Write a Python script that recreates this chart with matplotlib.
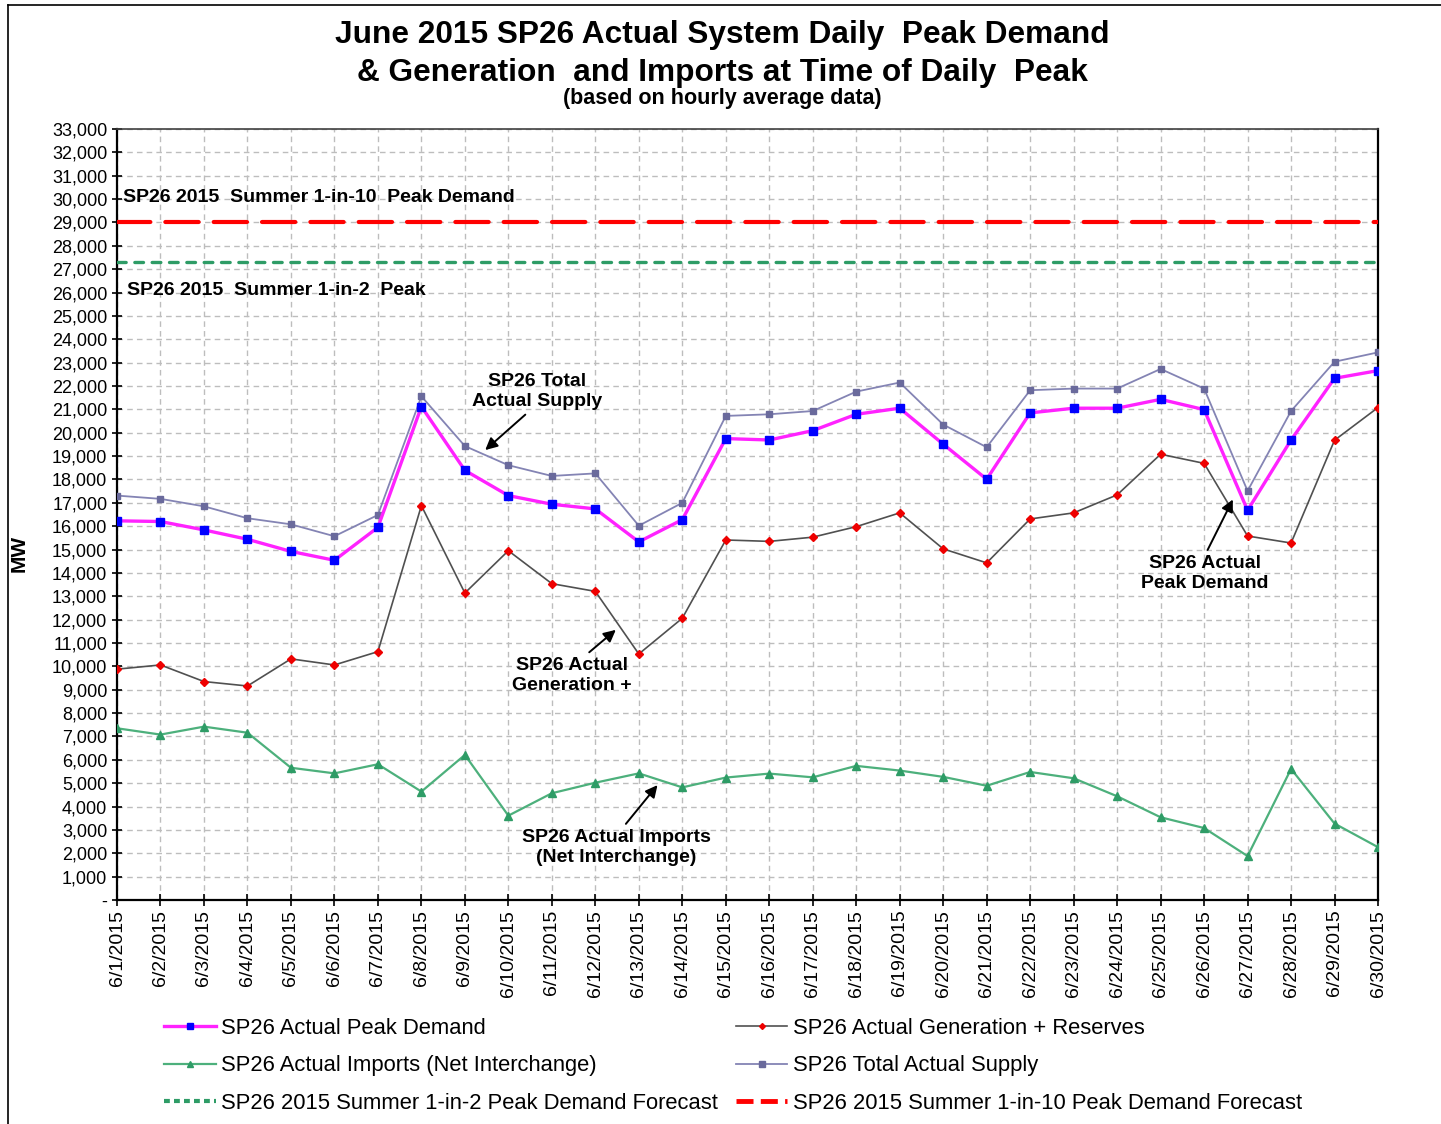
import matplotlib
matplotlib.use("Agg")
import matplotlib.pyplot as plt
from matplotlib.lines import Line2D
from matplotlib.ticker import FixedLocator, FuncFormatter

plt.rcParams["font.family"] = ["Liberation Sans", "DejaVu Sans"]

# ── Data (MW) ────────────────────────────────────────────────────────────────
DATES = [f"6/{d}/2015" for d in range(1, 31)]

PEAK_DEMAND = [16230, 16200, 15840, 15440, 14920, 14540, 15950, 21120, 18390, 17310,
               16940, 16740, 15330, 16280, 19750, 19690, 20090, 20790, 21050, 19510,
               18010, 20850, 21050, 21050, 21430, 20990, 16680, 19690, 22330, 22660]

GENERATION = [9880, 10060, 9350, 9160, 10320, 10060, 10630, 16880, 13140, 14950,
              13540, 13210, 10530, 12060, 15410, 15350, 15530, 15980, 16570, 15030,
              14430, 16310, 16570, 17340, 19080, 18690, 15580, 15280, 19680, 21080]

IMPORTS = [7350, 7080, 7420, 7160, 5660, 5420, 5810, 4640, 6210, 3610,
           4570, 5020, 5420, 4820, 5240, 5410, 5250, 5740, 5540, 5270,
           4890, 5480, 5210, 4440, 3540, 3080, 1880, 5610, 3270, 2260]

TOTAL_SUPPLY = [17310, 17170, 16850, 16340, 16080, 15570, 16480, 21560, 19430, 18610,
                18150, 18260, 16020, 17000, 20720, 20790, 20930, 21760, 22150, 20350,
                19380, 21820, 21890, 21890, 22730, 21890, 17510, 20930, 23040, 23440]

FORECAST_1IN10 = 29000
FORECAST_1IN2 = 27300

Y_TICKS = list(range(0, 33001, 1000))

# ── Figure ───────────────────────────────────────────────────────────────────
fig = plt.figure(figsize=(14.41, 11.24), dpi=100)
ax = fig.add_axes([0.0812, 0.1993, 0.8751, 0.6859])

x = list(range(len(DATES)))

ax.plot(x, [FORECAST_1IN10] * len(x), color="#FF0000", lw=3.0,
        dashes=(8, 3.6), dash_capstyle="round", zorder=3)
ax.plot(x, [FORECAST_1IN2] * len(x), color="#2E9C66", lw=2.4,
        dashes=(2.6, 2.6), dash_capstyle="round", zorder=3)

ax.plot(x, TOTAL_SUPPLY, color="#8484B4", lw=1.3, marker="s", ms=5,
        mfc="#6A6A9C", mec="#6A6A9C", zorder=4)
ax.plot(x, GENERATION, color="#505050", lw=1.2, marker="D", ms=3.6,
        mfc="#EE0000", mec="#EE0000", zorder=4)
ax.plot(x, IMPORTS, color="#4DB07C", lw=1.6, marker="^", ms=5.5,
        mfc="#2E9C66", mec="#2E9C66", zorder=4)
ax.plot(x, PEAK_DEMAND, color="#FF22FF", lw=2.4, marker="s", ms=5.5,
        mfc="#0000FF", mec="#0000FF", zorder=5)

ax.set_xlim(0, len(x) - 1)
ax.set_ylim(0, 33000)
ax.xaxis.set_major_locator(FixedLocator(x))
ax.set_xticklabels(DATES, rotation=90, fontsize=14)
ax.yaxis.set_major_locator(FixedLocator(Y_TICKS))
ax.yaxis.set_major_formatter(FuncFormatter(lambda v, p: "-" if v == 0 else f"{int(v):,}"))
ax.tick_params(axis="y", labelsize=13, direction="inout", length=7, width=1.2)
ax.tick_params(axis="x", direction="inout", length=8, width=1.2, pad=3)
ax.grid(True, color="#BDBDBD", lw=1.0, linestyle=(0, (4, 3)))
ax.set_axisbelow(True)
for side in ["left", "bottom", "right"]:
    ax.spines[side].set_linewidth(1.6)
    ax.spines[side].set_color("black")
ax.spines["top"].set_color("#404040")
ax.spines["top"].set_linewidth(1.2)

ax.set_ylabel("MW", fontsize=15, fontweight="bold")
ax.yaxis.set_label_coords(-0.0698, 0.45)

# ── Titles ───────────────────────────────────────────────────────────────────
fig.text(0.5015, 0.969, "June 2015 SP26 Actual System Daily  Peak Demand",
         ha="center", va="center", fontsize=22.8, fontweight="bold")
fig.text(0.5015, 0.935, "& Generation  and Imports at Time of Daily  Peak",
         ha="center", va="center", fontsize=22.8, fontweight="bold")
fig.text(0.5015, 0.912, "(based on hourly average data)",
         ha="center", va="center", fontsize=15.5, fontweight="bold")

# ── Annotations ──────────────────────────────────────────────────────────────
ann = dict(fontsize=14, fontweight="bold", zorder=6)
ax.text(0.14, 30090, "SP26 2015  Summer 1-in-10  Peak Demand", ha="left", va="center", **ann)
ax.text(0.23, 26070, "SP26 2015  Summer 1-in-2  Peak", ha="left", va="center", **ann)

arrow = dict(arrowstyle="-|>", color="black", lw=1.4, mutation_scale=18)
ax.annotate("SP26 Total\nActual Supply", xy=(8.42, 19180), xytext=(9.66, 21770),
            ha="center", va="center", linespacing=1.25,
            arrowprops=dict(arrow, relpos=(0.45, 0.0)), **ann)
ax.annotate("SP26 Actual\nGeneration +", xy=(11.52, 11640), xytext=(10.46, 9610),
            ha="center", va="center", linespacing=1.25,
            arrowprops=dict(arrow, relpos=(0.6, 1.0)), **ann)
ax.annotate("SP26 Actual\nPeak Demand", xy=(25.69, 17250), xytext=(25.02, 13960),
            ha="center", va="center", linespacing=1.25,
            arrowprops=dict(arrow, relpos=(0.5, 1.0)), **ann)
ax.annotate("SP26 Actual Imports\n(Net Interchange)", xy=(12.47, 5010), xytext=(11.48, 2250),
            ha="center", va="center", linespacing=1.25,
            arrowprops=dict(arrow, relpos=(0.53, 1.0)), **ann)

# ── Legend ───────────────────────────────────────────────────────────────────
handles = [
    Line2D([], [], color="#FF22FF", lw=2.4, marker="s", ms=4, mfc="#0000FF", mec="#0000FF"),
    Line2D([], [], color="#4DB07C", lw=1.6, marker="^", ms=4, mfc="#2E9C66", mec="#2E9C66"),
    Line2D([], [], color="#2E9C66", lw=3.0, dashes=(1.4, 1.0)),
    Line2D([], [], color="#505050", lw=1.2, marker="D", ms=3, mfc="#EE0000", mec="#EE0000"),
    Line2D([], [], color="#8484B4", lw=1.3, marker="s", ms=4, mfc="#6A6A9C", mec="#6A6A9C"),
    Line2D([], [], color="#FF0000", lw=3.5, dashes=(3.5, 1.5)),
]
labels = [
    "SP26 Actual Peak Demand",
    "SP26 Actual Imports (Net Interchange)",
    "SP26 2015 Summer 1-in-2 Peak Demand Forecast",
    "SP26 Actual Generation + Reserves",
    "SP26 Total Actual Supply",
    "SP26 2015 Summer 1-in-10 Peak Demand Forecast",
]
fig.legend(handles, labels, ncol=2, loc="upper left", bbox_to_anchor=(0.108, 0.102),
           frameon=False, fontsize=15.8, handlelength=2.35, handletextpad=0.25,
           columnspacing=0.8, labelspacing=0.74, borderaxespad=0)

# outer chart border (left and top edges visible)
fig.add_artist(Line2D([8 / 1441, 8 / 1441], [0, 1 - 5 / 1124], color="black", lw=1.2))
fig.add_artist(Line2D([8 / 1441, 1], [1 - 5 / 1124, 1 - 5 / 1124], color="black", lw=1.2))

fig.savefig("out.png", dpi=100)
